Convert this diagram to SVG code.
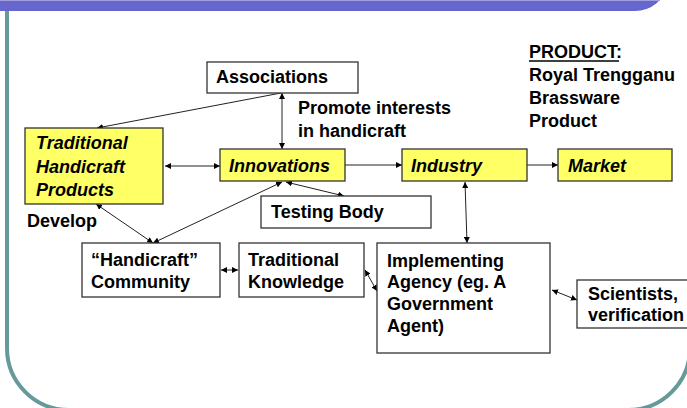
<svg xmlns="http://www.w3.org/2000/svg" width="687" height="408" viewBox="0 0 687 408">
<defs>
<marker id="ah" viewBox="0 0 10 10" refX="10" refY="5" markerWidth="6" markerHeight="6" markerUnits="userSpaceOnUse" orient="auto-start-reverse">
<path d="M0,0 L10,5 L0,10 z" fill="#000"/>
</marker>
<style>
text{font-family:"Liberation Sans",Arial,sans-serif;font-weight:bold;font-size:18px;fill:#000}
.it{font-style:italic}
.box{fill:#fff;stroke:#333;stroke-width:1.3}
.yb{fill:#FFFF66;stroke:#333;stroke-width:1.3}
.c line{stroke:#222;stroke-width:1}
.one{marker-end:url(#ah)}
.two{marker-start:url(#ah);marker-end:url(#ah)}
</style>
</defs>
<rect x="0" y="0" width="687" height="408" fill="#fff"/>
<rect x="7" y="-100" width="683" height="510" rx="62" ry="62" fill="none" stroke="#669999" stroke-width="4"/>
<rect x="-40" y="-40" width="705" height="51" rx="30" ry="30" fill="#6666CC"/>
<line x1="0" y1="0.5" x2="660" y2="0.5" stroke="#A0A0E0" stroke-width="1"/>

<g class="c" id="connectors">
<line class="two" x1="282" y1="93" x2="282" y2="149"/>
<line class="one" x1="281" y1="93" x2="97" y2="128"/>
<line class="two" x1="165" y1="166" x2="220" y2="166"/>
<line class="one" x1="345" y1="165" x2="402" y2="165"/>
<line class="one" x1="527" y1="165" x2="558" y2="165"/>
<line class="two" x1="286" y1="182" x2="344" y2="196"/>
<line class="two" x1="153" y1="243" x2="282" y2="182"/>
<line class="two" x1="153" y1="243" x2="96" y2="204"/>
<line class="two" x1="221" y1="270" x2="238" y2="270"/>
<line class="two" x1="365" y1="270" x2="377" y2="291"/>
<line class="two" x1="465" y1="182" x2="467" y2="243"/>
<line class="two" x1="552" y1="290" x2="577" y2="300"/>
</g>

<g id="associations"><rect class="box" x="207" y="62" width="151" height="31"/><text x="216" y="83">Associations</text></g>
<g id="promote"><text x="298" y="114">Promote interests</text><text x="298" y="137">in handicraft</text></g>
<g id="product"><text x="529" y="58">PRODUCT:</text><line x1="529" y1="61" x2="619" y2="61" stroke="#000" stroke-width="1.6"/><text x="529" y="81">Royal Trengganu</text><text x="529" y="104">Brassware</text><text x="529" y="127">Product</text></g>
<g id="thp"><rect class="yb" x="25" y="128" width="138" height="76"/><text class="it" x="36" y="149">Traditional</text><text class="it" x="36" y="173">Handicraft</text><text class="it" x="36" y="196">Products</text></g>
<g id="innovations"><rect class="yb" x="220" y="149" width="125" height="32"/><text class="it" x="229" y="172">Innovations</text></g>
<g id="industry"><rect class="yb" x="402" y="149" width="125" height="32"/><text class="it" x="411" y="172">Industry</text></g>
<g id="market"><rect class="yb" x="558" y="149" width="114" height="32"/><text class="it" x="568" y="172">Market</text></g>
<g id="testing"><rect class="box" x="261" y="196" width="170" height="32"/><text x="271" y="218">Testing Body</text></g>
<g id="develop"><text x="27" y="227">Develop</text></g>
<g id="community"><rect class="box" x="82" y="243" width="138" height="54"/><text x="91" y="266">“Handicraft”</text><text x="91" y="288">Community</text></g>
<g id="knowledge"><rect class="box" x="239" y="243" width="125" height="54"/><text x="248" y="266">Traditional</text><text x="248" y="288">Knowledge</text></g>
<g id="agency"><rect class="box" x="377" y="243" width="173" height="110"/><text x="387" y="267">Implementing</text><text x="387" y="288">Agency (eg. A</text><text x="387" y="310">Government</text><text x="387" y="332">Agent)</text></g>
<g id="scientists"><rect class="box" x="577" y="280" width="120" height="48"/><text x="588" y="300">Scientists,</text><text x="588" y="321">verification</text></g>
</svg>
